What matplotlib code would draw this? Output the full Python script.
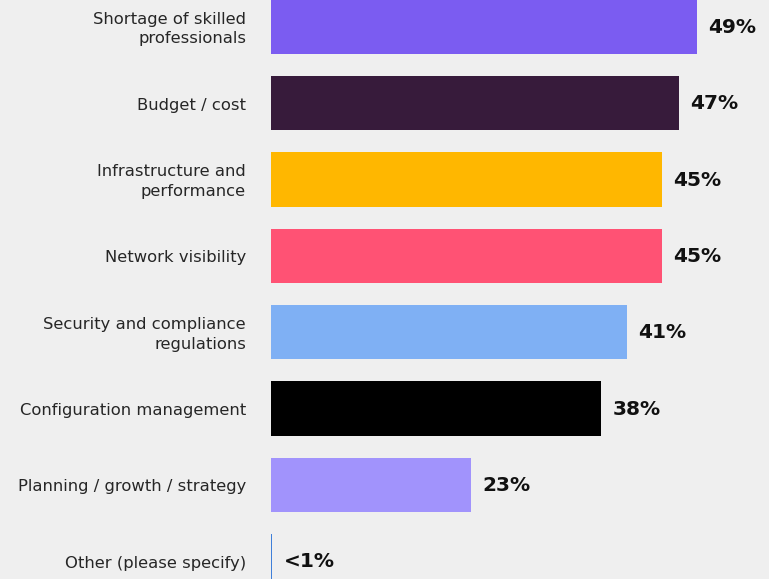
import numpy as np
import matplotlib
matplotlib.use("Agg")
import matplotlib.pyplot as plt

categories = [
    "Shortage of skilled\nprofessionals",
    "Budget / cost",
    "Infrastructure and\nperformance",
    "Network visibility",
    "Security and compliance\nregulations",
    "Configuration management",
    "Planning / growth / strategy",
    "Other (please specify)",
]
values = [49, 47, 45, 45, 41, 38, 23, 0.15]
value_labels = ["49%", "47%", "45%", "45%", "41%", "38%", "23%", "<1%"]
colors = ["#7b5cf1", "#371b3b", "#ffb700", "#ff5274",
          "#7fb0f4", "#000000", "#a193fc", "#3f7fd9"]

bg = "#efefef"
plt.rcParams["font.family"] = ["DejaVu Sans"]

fig = plt.figure(figsize=(7.69, 5.79), dpi=100, facecolor=bg)
ax = fig.add_axes([271 / 769, 0, 1 - 271 / 769, 1])
ax.set_facecolor(bg)

y = np.arange(len(categories))
ax.barh(y, values, height=54 / 76, color=colors)

# pixel layout: first bar centred 27px from the top, 76.3px between bars
step = 76.3
ax.set_ylim((579 - 27) / step, -27 / step)
ax.set_xlim(0, (769 - 271) / 8.69)

for yi, v, lab in zip(y, values, value_labels):
    ax.annotate(lab, (v, yi), xytext=(8, -0.5), textcoords="offset points",
                va="center", ha="left", fontsize=14.5, fontweight="bold",
                color="#111111")

for yi, cat in zip(y, categories):
    ax.annotate(cat, (0, yi), xytext=(-18, -1.5), textcoords="offset points",
                va="center", ha="right", fontsize=11.8, color="#262626",
                linespacing=1.4, annotation_clip=False)

ax.set_xticks([])
ax.set_yticks([])
for s in ax.spines.values():
    s.set_visible(False)

fig.savefig("out.png", dpi=100, facecolor=bg)
